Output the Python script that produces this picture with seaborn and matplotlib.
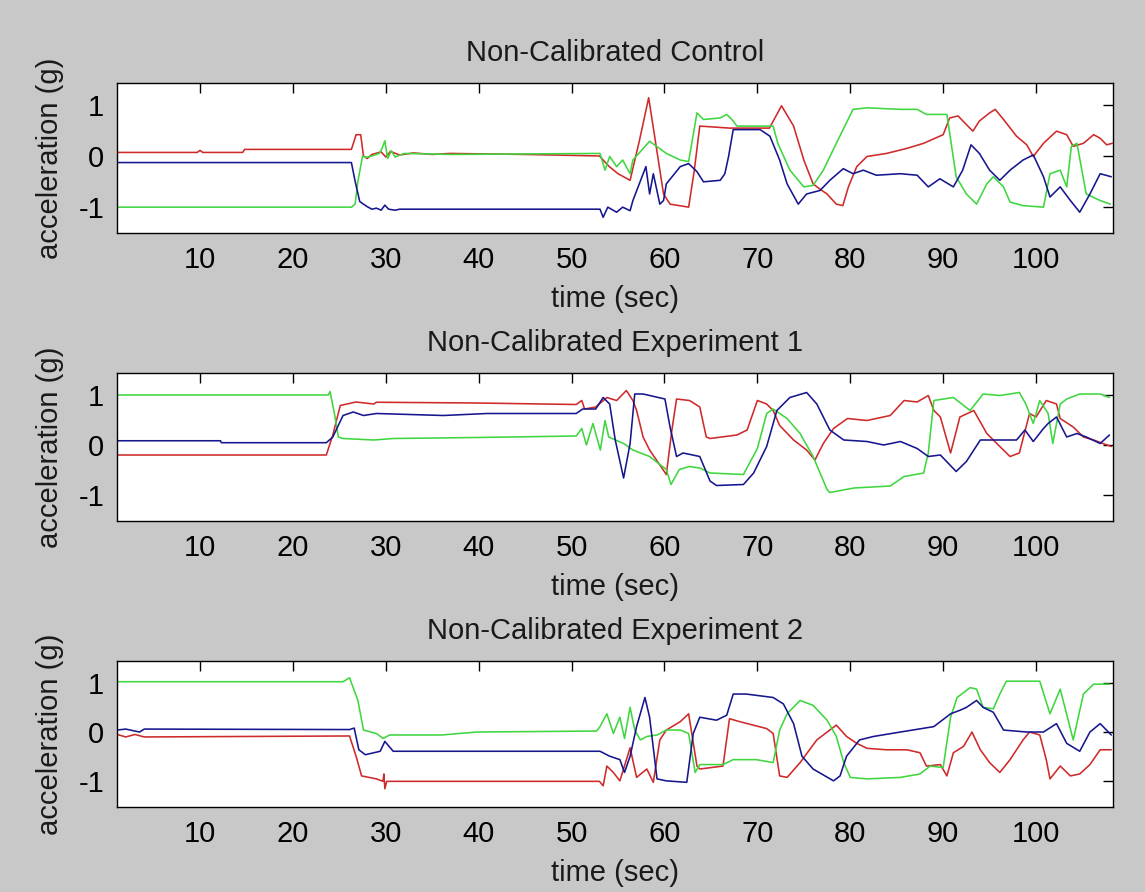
import matplotlib
matplotlib.use("Agg")
import matplotlib.pyplot as plt
import pandas as pd
import seaborn as sns

# ---------------- data ----------------
titles = ["Non-Calibrated Control", "Non-Calibrated Experiment 1", "Non-Calibrated Experiment 2"]
xticks = [10, 20, 30, 40, 50, 60, 70, 80, 90, 100]
yticks = [-1, 0, 1]

# Panel 1: Control
c_red_t = [1.1, 9.7, 10.0, 10.3, 14.6, 14.8, 26.3, 26.6, 26.8, 27.3, 27.6, 28.0, 28.5, 29.5, 30.0, 30.5, 31.5, 33.0, 35.0, 36.9,
           45.0, 53.0, 54.0, 55.0, 56.3, 57.3, 58.3, 59.9, 60.6, 62.6, 63.2, 63.8, 67.0, 71.3, 72.6, 73.9, 75.0, 76.0, 76.7, 77.5,
           78.5, 79.2, 79.8, 80.7, 81.8, 83.9, 86.1, 87.9, 90.0, 90.7, 91.6, 92.5, 93.2, 93.9, 95.0, 95.6, 96.5, 97.9, 99.0, 99.7,
           100.8, 102.2, 103.3, 104.0, 105.1, 106.2, 106.9, 107.6, 108.2]
c_red_v = [0.07, 0.07, 0.11, 0.07, 0.07, 0.13, 0.13, 0.30, 0.42, 0.42, 0.00, -0.05, 0.03, 0.08, -0.02, 0.09, 0.02, 0.06, 0.03, 0.05,
           0.03, 0.00, -0.20, -0.35, -0.48, 0.30, 1.15, -0.75, -0.95, -1.01, -0.30, 0.59, 0.55, 0.55, 0.99, 0.59, -0.08, -0.55, -0.65, -0.75,
           -0.95, -0.98, -0.61, -0.21, -0.01, 0.05, 0.15, 0.25, 0.42, 0.75, 0.79, 0.62, 0.49, 0.69, 0.85, 0.92, 0.72, 0.39, 0.22, -0.01,
           0.25, 0.49, 0.42, 0.19, 0.25, 0.42, 0.35, 0.22, 0.25]
c_grn_t = [1.1, 26.3, 26.7, 27.0, 27.5, 27.8, 28.5, 29.3, 29.6, 29.9, 30.2, 30.6, 31.0, 32.0, 36.9, 53.06, 53.6, 54.1, 54.85, 55.5,
           56.3, 56.6, 58.4, 60.2, 61.7, 62.6, 63.5, 64.2, 66.0, 66.7, 67.4, 67.8, 71.7, 72.2, 73.5, 75.0, 76.0, 77.1, 78.5, 80.3,
           81.8, 85.4, 87.2, 88.2, 90.4, 91.4, 92.5, 93.6, 94.7, 95.4, 96.5, 97.2, 98.6, 100.8, 101.5, 102.6, 103.3, 103.8, 104.4, 105.4,
           106.9, 108.0]
c_grn_v = [-1.01, -1.01, -0.95, -0.5, 0.0, -0.03, 0.0, 0.05, 0.15, 0.30, -0.05, 0.1, -0.02, 0.05, 0.03, 0.05, -0.28, -0.01, -0.21, -0.08,
           -0.35, -0.08, 0.29, 0.05, -0.08, -0.11, 0.85, 0.72, 0.75, 0.82, 0.69, 0.59, 0.59, 0.25, -0.28, -0.61, -0.58, -0.28, 0.25, 0.92,
           0.95, 0.92, 0.92, 0.82, 0.82, -0.41, -0.75, -0.95, -0.55, -0.41, -0.61, -0.91, -0.98, -1.01, -0.35, -0.28, -0.61, 0.19, 0.25, -0.75,
           -0.88, -0.95]
c_blu_t = [1.1, 26.3, 26.7, 27.2, 27.6, 28.0, 28.5, 29.0, 29.5, 29.9, 30.3, 31.0, 31.5, 53.06, 53.4, 53.9, 54.85, 55.5, 56.3, 56.6,
           58.0, 58.4, 58.8, 59.5, 59.9, 60.2, 61.7, 62.6, 63.5, 64.2, 66.0, 66.5, 66.9, 67.4, 70.3, 71.35, 72.4, 73.2, 74.4, 75.3,
           76.75, 77.8, 79.25, 80.3, 81.4, 82.8, 85.4, 87.2, 88.4, 89.65, 91.1, 92.1, 93.0, 93.9, 95.0, 96.1, 97.2, 98.6, 99.7, 100.8,
           101.5, 102.6, 103.7, 104.7, 105.8, 106.9, 108.1]
c_blu_v = [-0.13, -0.13, -0.5, -0.9, -0.95, -1.0, -1.05, -1.03, -1.07, -0.97, -1.05, -1.07, -1.05, -1.05, -1.21, -1.01, -1.11, -1.01, -1.08, -0.88,
           -0.21, -0.75, -0.35, -0.95, -0.88, -0.55, -0.21, -0.15, -0.31, -0.51, -0.48, -0.35, -0.01, 0.52, 0.52, 0.39, -0.08, -0.55, -0.95, -0.75,
           -0.68, -0.48, -0.25, -0.35, -0.28, -0.38, -0.35, -0.38, -0.61, -0.45, -0.61, -0.28, 0.22, 0.05, -0.28, -0.48, -0.28, -0.08, 0.02, -0.41,
           -0.81, -0.61, -0.88, -1.11, -0.75, -0.35, -0.41]

# Panel 2: Experiment 1
e1_red_t = [1.1, 23.6, 24.3, 25.1, 26.8, 28.7, 29.0, 39.8, 50.5, 51.1, 51.4, 52.6, 53.8, 54.85, 55.9, 56.6, 57.0, 57.7, 58.4, 60.2,
            60.8, 61.3, 62.7, 63.8, 64.5, 64.9, 67.8, 68.9, 70.0, 71.0, 71.7, 72.4, 73.9, 75.3, 76.2, 77.1, 78.2, 79.7, 81.8, 84.3,
            85.8, 87.2, 88.4, 89.0, 89.7, 90.8, 91.8, 93.3, 94.7, 96.1, 97.2, 98.2, 99.3, 100.0, 101.1, 102.2, 102.6, 104.0, 105.1, 106.2,
            107.2, 108.1]
e1_red_v = [-0.2, -0.2, 0.2, 0.79, 0.86, 0.82, 0.855, 0.84, 0.81, 0.89, 0.72, 0.76, 0.95, 0.89, 1.09, 0.89, 0.69, 0.16, -0.1, -0.59,
            0.30, 0.92, 0.89, 0.76, 0.16, 0.13, 0.2, 0.3, 0.89, 0.82, 0.69, 0.39, 0.1, -0.1, -0.3, 0.03, 0.33, 0.53, 0.49, 0.59,
            0.89, 0.86, 0.99, 0.69, 0.56, -0.16, 0.56, 0.69, 0.23, -0.03, -0.23, -0.16, 0.63, 0.56, 0.89, 0.82, 0.53, 0.36, 0.16, 0.1,
            0.03, -0.03]
e1_grn_t = [1.1, 23.8, 24.0, 24.5, 24.9, 25.4, 28.7, 30.8, 39.8, 50.5, 51.1, 51.6, 52.3, 53.1, 53.6, 54.0, 55.6, 56.6, 58.4, 60.2,
            60.7, 61.6, 62.7, 63.8, 64.9, 68.5, 70.0, 71.0, 71.7, 73.2, 74.6, 76.0, 77.5, 77.8, 80.4, 84.3, 85.8, 87.9, 88.4, 89.0,
            91.1, 92.9, 94.3, 96.1, 98.2, 98.9, 99.7, 100.4, 101.3, 101.8, 102.6, 103.3, 104.7, 106.9, 107.9]
e1_grn_v = [1.0, 1.0, 1.07, 0.6, 0.16, 0.13, 0.10, 0.13, 0.15, 0.18, 0.33, 0.0, 0.43, -0.1, 0.49, 0.16, 0.03, -0.1, -0.23, -0.49,
            -0.79, -0.49, -0.43, -0.46, -0.56, -0.59, -0.07, 0.63, 0.72, 0.53, 0.23, -0.23, -0.89, -0.95, -0.86, -0.82, -0.63, -0.56, -0.16, 0.89,
            0.95, 0.69, 1.02, 0.99, 1.05, 0.82, 0.43, 0.89, 0.63, 0.03, 0.82, 0.92, 1.02, 1.02, 0.95]
e1_blu_t = [1.1, 12.2, 12.3, 23.6, 24.3, 25.4, 26.5, 27.6, 29.0, 36.2, 40.9, 50.5, 51.2, 52.6, 53.4, 54.1, 54.7, 55.6, 56.3, 56.8,
            57.7, 60.05, 60.6, 61.3, 62.0, 63.8, 64.9, 65.6, 68.5, 69.6, 71.0, 72.1, 73.5, 75.3, 76.4, 77.8, 79.3, 81.8, 83.6, 85.4,
            87.2, 88.4, 89.7, 91.4, 92.5, 94.0, 96.1, 97.9, 98.8, 99.7, 100.8, 101.3, 102.2, 103.3, 104.4, 105.4, 106.9, 107.9]
e1_blu_v = [0.085, 0.085, 0.046, 0.046, 0.16, 0.59, 0.66, 0.59, 0.63, 0.59, 0.63, 0.63, 0.72, 0.72, 0.95, 0.82, 0.1, -0.66, 0.03, 1.02,
            1.02, 0.92, 0.36, -0.23, -0.16, -0.23, -0.72, -0.81, -0.79, -0.56, -0.03, 0.69, 0.95, 1.05, 0.82, 0.30, 0.10, 0.07, 0.0, 0.07,
            -0.07, -0.23, -0.2, -0.53, -0.33, 0.1, 0.1, 0.1, 0.3, 0.07, 0.33, 0.43, 0.56, 0.16, 0.23, 0.16, 0.03, 0.2]

# Panel 3: Experiment 2
e2_red_t = [1.1, 2.0, 3.0, 4.0, 26.1, 26.8, 27.4, 29.0, 29.7, 29.8, 29.9, 30.1, 53.0, 53.4, 53.8, 54.5, 55.2, 56.3, 57.0, 58.1,
            58.8, 59.5, 60.2, 61.7, 62.6, 63.5, 63.8, 66.3, 67.0, 68.1, 71.0, 71.7, 72.4, 73.2, 74.6, 76.4, 78.5, 79.6, 80.7, 81.8,
            83.9, 86.1, 87.5, 88.2, 89.7, 90.4, 91.1, 92.2, 93.1, 94.0, 95.0, 96.1, 97.2, 98.6, 99.3, 100.4, 101.1, 101.5, 102.6, 103.7,
            104.7, 105.8, 106.9, 108.1]
e2_red_v = [-0.05, -0.1, -0.05, -0.1, -0.08, -0.49, -0.89, -0.95, -1.0, -0.85, -1.15, -1.0, -1.0, -1.09, -0.69, -0.82, -0.99, -0.32, -0.92, -0.75,
            -1.02, -0.16, 0.04, 0.21, 0.37, -0.69, -0.75, -0.69, 0.27, 0.21, 0.07, -0.03, -0.89, -0.92, -0.62, -0.16, 0.14, -0.09, -0.23, -0.33,
            -0.36, -0.36, -0.42, -0.69, -0.66, -0.89, -0.42, -0.29, 0.0, -0.36, -0.62, -0.82, -0.56, -0.16, 0.0, -0.06, -0.56, -0.95, -0.69, -0.89,
            -0.85, -0.66, -0.36, -0.36]
e2_grn_t = [1.1, 25.4, 26.1, 27.0, 27.6, 29.0, 29.7, 30.4, 36.0, 39.8, 52.7, 53.06, 53.8, 54.5, 55.2, 55.7, 56.3, 56.8, 57.4, 58.1,
            59.2, 60.2, 61.7, 62.6, 63.3, 63.8, 66.3, 67.4, 69.9, 71.7, 72.4, 73.2, 74.6, 76.0, 77.5, 78.5, 79.3, 80.0, 81.8, 85.4,
            87.5, 88.6, 90.0, 90.8, 91.5, 92.9, 93.6, 94.3, 95.4, 96.1, 96.8, 100.4, 101.5, 102.6, 104.0, 105.1, 106.2, 107.9]
e2_grn_v = [1.02, 1.02, 1.10, 0.64, 0.04, -0.03, -0.13, -0.06, -0.06, 0.0, 0.02, 0.11, 0.37, -0.03, 0.3, -0.13, 0.5, 0.04, -0.16, -0.09,
            -0.06, 0.04, 0.04, -0.03, -0.82, -0.66, -0.66, -0.56, -0.56, -0.62, 0.04, 0.37, 0.64, 0.54, 0.24, -0.09, -0.62, -0.92, -0.95, -0.92,
            -0.85, -0.69, -0.72, 0.3, 0.7, 0.9, 0.87, 0.5, 0.47, 0.77, 1.03, 1.03, 0.37, 0.87, -0.16, 0.77, 0.97, 0.97]
e2_blu_t = [1.1, 2.0, 3.5, 4.0, 26.1, 26.6, 27.1, 27.8, 29.4, 29.9, 30.8, 53.06, 54.1, 55.2, 55.7, 56.3, 57.0, 57.9, 58.4, 59.2,
            60.2, 62.4, 63.1, 63.8, 65.6, 66.7, 67.4, 68.8, 71.7, 72.8, 73.9, 74.8, 76.0, 78.2, 78.9, 79.6, 81.0, 82.5, 85.4, 89.0,
            90.8, 91.8, 92.5, 93.6, 94.3, 95.4, 96.5, 99.0, 100.8, 102.2, 103.3, 104.7, 105.8, 106.9, 108.1]
e2_blu_v = [0.04, 0.06, 0.0, 0.06, 0.05, 0.08, -0.36, -0.46, -0.39, -0.19, -0.39, -0.39, -0.49, -0.56, -0.82, -0.49, 0.11, 0.7, 0.3, -0.95,
            -0.99, -1.02, -0.03, 0.3, 0.24, 0.34, 0.77, 0.77, 0.7, 0.57, 0.17, -0.49, -0.75, -0.99, -0.89, -0.49, -0.16, -0.09, 0.0, 0.11,
            0.37, 0.44, 0.5, 0.64, 0.5, 0.4, 0.04, 0.0, 0.0, 0.17, -0.23, -0.39, 0.0, 0.17, -0.06]

panels = [
    {"x": (c_red_t, c_grn_t, c_blu_t), "y": (c_red_v, c_grn_v, c_blu_v)},
    {"x": (e1_red_t, e1_grn_t, e1_blu_t), "y": (e1_red_v, e1_grn_v, e1_blu_v)},
    {"x": (e2_red_t, e2_grn_t, e2_blu_t), "y": (e2_red_v, e2_grn_v, e2_blu_v)},
]
series_names = ["x", "y", "z"]
palette = {"x": "#cf2a2a", "y": "#3fd63f", "z": "#16168e"}

# ---------------- style ----------------
sns.set_style("white")
plt.rcParams['font.family'] = ['Liberation Sans', 'DejaVu Sans']
plt.rcParams['axes.unicode_minus'] = False
FS = 21

fig = plt.figure(figsize=(11.45, 8.92), dpi=100, facecolor='#c8c8c8')
W, H = 1145.0, 892.0
left_px, right_px = 117.3, 1112.7
boxes = [(83, 233), (373, 521), (661, 807)]

for p, (top_px, bot_px) in zip(panels, boxes):
    ax = fig.add_axes([left_px / W, 1 - bot_px / H, (right_px - left_px) / W, (bot_px - top_px) / H])
    rows = []
    for name, xs, ys in zip(series_names, p["x"], p["y"]):
        rows.append(pd.DataFrame({"t": xs, "a": ys, "axis": name}))
    df = pd.concat(rows, ignore_index=True)
    sns.lineplot(data=df, x="t", y="a", hue="axis", hue_order=series_names, palette=palette,
                 sort=False, estimator=None, legend=False, linewidth=1.15, ax=ax)
    ax.set_facecolor('white')
    ax.set_xlim(1.1, 108.25)
    ax.set_ylim(-1.52, 1.44)
    ax.set_xticks(xticks)
    ax.set_yticks(yticks)
    ax.set_xticklabels([str(v) for v in xticks])
    ax.set_yticklabels([str(v) for v in yticks])
    ax.tick_params(direction='in', length=7.5, width=1.0, top=True, right=True,
                   labelsize=FS, colors='black', pad=9.5)
    for s in ax.spines.values():
        s.set_visible(True)
        s.set_color('black')
        s.set_linewidth(1.0)

ax_list = fig.axes
for ax, title in zip(ax_list, titles):
    ax.set_title(title, fontsize=FS, pad=16, color='#1a1a1a')
    ax.set_xlabel("time (sec)", fontsize=FS, labelpad=8, color='#1a1a1a')
    ax.set_ylabel("acceleration (g)", fontsize=FS, labelpad=10, color='#1a1a1a')

fig.savefig("out.png", dpi=100, facecolor=fig.get_facecolor())
